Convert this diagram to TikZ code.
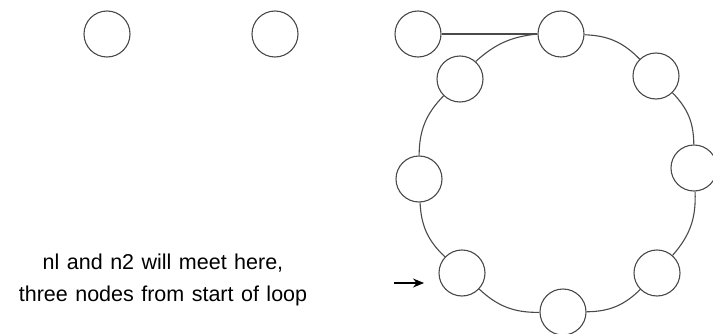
\documentclass[tikz,border=0pt]{standalone}
\usepackage{fontspec}
\setmainfont[WordSpace=1.25]{Liberation Sans}
\usetikzlibrary{arrows.meta}
\definecolor{ink}{HTML}{4A4A4A}
\tikzset{
  listnode/.style={circle, draw=ink, line width=1.1pt, fill=white, minimum size=46pt, inner sep=0pt},
  link/.style={draw=ink, line width=1.1pt},
  pointer/.style={draw=black, line width=1.1pt, -{Stealth[length=11pt,width=9pt]}},
  caption/.style={align=center, font=\fontsize{21.5}{31.7}\selectfont}
}
\begin{document}
\begin{tikzpicture}[x=1pt,y=1pt]
\useasboundingbox (0,0) rectangle (713,333);
% free nodes
\node[listnode] (a) at (107,299) {};
\node[listnode] (b) at (275,299) {};
% tail and loop
\node[listnode] (t)  at (418,299) {};
\node[listnode] (n0) at (561,299) {};
\node[listnode] (n1) at (656,257) {};
\node[listnode] (n2) at (694,165) {};
\node[listnode] (n3) at (657,60) {};
\node[listnode] (n4) at (563,21) {};
\node[listnode] (n5) at (462,60) {};
\node[listnode] (n6) at (419,154) {};
\node[listnode] (n7) at (460,254) {};
\draw[link] (t) -- (n0.west);
\draw[link] (n0) to[bend left=22] (n1);
\draw[link] (n1) to[bend left=22] (n2);
\draw[link] (n2) to[bend left=22] (n3);
\draw[link] (n3) to[bend left=22] (n4);
\draw[link] (n4) to[bend left=22] (n5);
\draw[link] (n5) to[bend left=22] (n6);
\draw[link] (n6) to[bend left=22] (n7);
\draw[link] (n7) to[bend left=18] (n0.west);
% pointer arrow
\coordinate (ps) at (394,50);
\coordinate (pe) at (424,50);
\draw[pointer] (ps) -- (pe);
% caption
\node[caption] (cap) at (163,53) {nl and n2 will meet here,\\three nodes from start of loop};
\end{tikzpicture}
\end{document}
